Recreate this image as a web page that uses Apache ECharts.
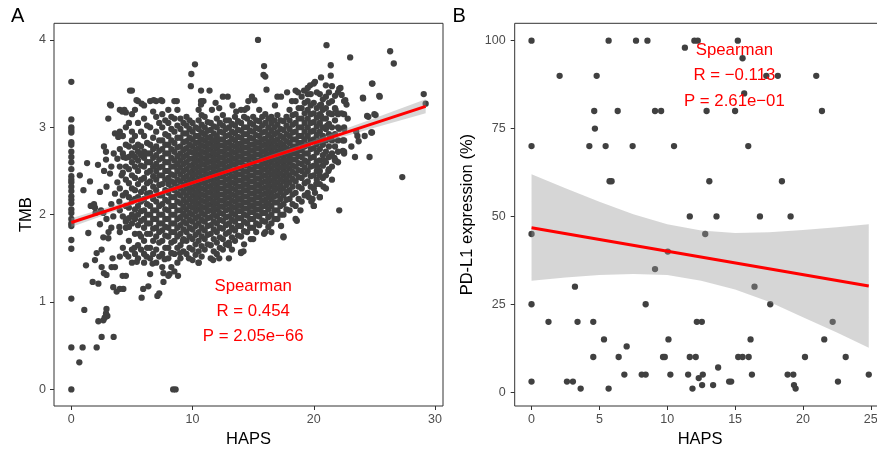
<!DOCTYPE html>
<html><head><meta charset="utf-8">
<script src="https://cdn.jsdelivr.net/npm/echarts@6/dist/echarts.min.js"></script>
<style>html,body{margin:0;padding:0;background:#fff}#c{width:877px;height:451px}</style>
</head><body><div id="c"></div>
<script>
// ---------- Panel A: TMB vs HAPS ----------
const tmbZeroHapsValues = [3.52,3.09,3.0,2.97,2.94,2.83,2.8,2.72,2.66,2.6,2.52,2.44,2.4,2.37,2.32,2.27,2.21,2.17,2.13,2.06,2.02,1.95,1.9,1.87,1.71,1.61,1.04,0.48,0];

const tmbStripHaps = [4.0,4.5,5.0,5.5,6.0,6.5,7.0,7.5,8.0,8.5,9.0,9.5,10.0,10.5,11.0,11.5,12.0,12.5,13.0,13.5,14.0,14.5,15.0,15.5,16.0,16.5,17.0,17.5,18.0,18.5,19.0,19.5,20.0,20.5,21.0,21.5,22.0,22.5];
const tmbStripValues = [
  [1.15,1.52,1.8,2.05,2.3,2.55,2.75,2.95,3.2],
  [1.3,1.55,1.85,1.92,2.1,2.25,2.4,2.55,2.65,2.8,3.0,3.17],
  [1.45,1.6,1.9,2.0,2.15,2.3,2.45,2.6,2.7,2.85,2.95,3.15,3.42],
  [1.5,1.65,1.88,2.0,2.1,2.2,2.35,2.5,2.62,2.72,2.8,3.05,3.3],
  [1.45,1.55,1.7,1.85,1.95,2.05,2.18,2.3,2.42,2.55,2.65,2.72,2.9,3.1,3.25],
  [1.5,1.62,1.78,1.9,2.0,2.1,2.25,2.38,2.5,2.6,2.7,2.8,3.0,3.3],
  [1.45,1.6,1.75,1.85,1.95,2.05,2.15,2.28,2.4,2.5,2.58,2.68,2.78,2.95,3.12,3.3],
  [1.4,1.55,1.7,1.82,1.9,2.0,2.12,2.22,2.35,2.45,2.55,2.65,2.75,2.85,3.0,3.15,3.3],
  [1.3,1.5,1.62,1.75,1.85,1.95,2.05,2.15,2.25,2.35,2.42,2.5,2.6,2.7,2.8,2.9,3.05,3.2],
  [1.35,1.55,1.7,1.8,1.9,2.0,2.1,2.2,2.28,2.36,2.45,2.55,2.62,2.72,2.82,2.95,3.1,3.3],
  [1.5,1.65,1.78,1.88,1.97,2.05,2.13,2.22,2.3,2.38,2.46,2.54,2.62,2.7,2.78,2.88,2.98,3.1],
  [1.55,1.7,1.8,1.9,1.98,2.06,2.14,2.22,2.3,2.37,2.44,2.52,2.6,2.68,2.76,2.84,2.93,3.02,3.12],
  [1.48,1.6,1.72,1.83,1.92,2.0,2.08,2.15,2.22,2.29,2.36,2.43,2.5,2.57,2.64,2.71,2.78,2.86,2.95,3.05],
  [1.45,1.58,1.7,1.8,1.9,1.98,2.06,2.13,2.2,2.27,2.34,2.41,2.48,2.55,2.62,2.69,2.76,2.83,2.9,2.98,3.08,3.2],
  [1.6,1.72,1.82,1.92,2.0,2.08,2.15,2.22,2.29,2.36,2.43,2.5,2.57,2.64,2.71,2.78,2.85,2.92,3.0,3.12],
  [1.5,1.65,1.78,1.88,1.97,2.05,2.12,2.19,2.26,2.33,2.4,2.47,2.54,2.61,2.68,2.75,2.82,2.89,2.97,3.05],
  [1.55,1.68,1.8,1.9,1.98,2.06,2.13,2.2,2.27,2.34,2.41,2.48,2.55,2.62,2.69,2.76,2.83,2.9,3.0,3.1],
  [1.6,1.72,1.84,1.93,2.01,2.09,2.16,2.23,2.3,2.37,2.44,2.51,2.58,2.65,2.72,2.79,2.86,2.94,3.02,3.14],
  [1.5,1.68,1.8,1.9,1.98,2.06,2.13,2.2,2.27,2.34,2.41,2.48,2.55,2.62,2.69,2.76,2.83,2.91,3.0,3.08],
  [1.7,1.82,1.92,2.0,2.08,2.15,2.22,2.29,2.36,2.43,2.5,2.57,2.64,2.71,2.78,2.85,2.93,3.02,3.12],
  [1.56,1.75,1.87,1.96,2.04,2.11,2.18,2.25,2.32,2.39,2.46,2.53,2.6,2.67,2.74,2.81,2.88,2.96,3.05,3.2],
  [1.8,1.9,1.99,2.07,2.14,2.21,2.28,2.35,2.42,2.49,2.56,2.63,2.7,2.77,2.84,2.92,3.0,3.1,3.22],
  [1.72,1.85,1.95,2.03,2.1,2.17,2.24,2.31,2.38,2.45,2.52,2.59,2.66,2.73,2.8,2.87,2.95,3.03,3.12],
  [1.88,1.98,2.06,2.13,2.2,2.27,2.34,2.41,2.48,2.55,2.62,2.69,2.76,2.83,2.9,2.98,3.07,3.2],
  [1.8,1.92,2.02,2.1,2.17,2.24,2.31,2.38,2.45,2.52,2.59,2.66,2.73,2.8,2.87,2.95,3.05,3.15],
  [1.9,2.0,2.1,2.18,2.25,2.32,2.39,2.46,2.53,2.6,2.67,2.74,2.81,2.88,2.96,3.05,3.12],
  [1.95,2.05,2.14,2.22,2.3,2.37,2.44,2.51,2.58,2.65,2.72,2.79,2.86,2.94,3.03,3.14],
  [1.75,2.0,2.12,2.22,2.3,2.38,2.45,2.52,2.59,2.66,2.73,2.8,2.88,2.97,3.07],
  [2.05,2.18,2.28,2.37,2.45,2.53,2.6,2.67,2.74,2.82,2.9,2.98,3.08,3.2],
  [1.95,2.1,2.25,2.38,2.47,2.55,2.63,2.7,2.78,2.86,2.95,3.05,3.15,3.3,3.42],
  [2.15,2.3,2.42,2.5,2.58,2.66,2.74,2.82,2.9,3.0,3.1,3.22,3.35],
  [2.25,2.38,2.5,2.6,2.7,2.8,2.9,3.0,3.1,3.2,3.3,3.45],
  [2.1,2.3,2.45,2.56,2.66,2.76,2.86,2.96,3.06,3.16,3.28,3.5],
  [2.2,2.35,2.5,2.62,2.75,2.85,2.95,3.05,3.15,3.25,3.38],
  [2.3,2.45,2.6,2.72,2.85,2.98,3.1,3.22,3.35,3.48],
  [2.4,2.55,2.7,2.85,3.0,3.15,3.3],
  [2.6,2.72,2.85,3.0,3.15,3.4],
  [2.7,2.85,3.0,3.15,3.3]
];

const tmbMidStripHaps = [4.25,4.75,5.25,5.75,6.25,6.75,7.25,7.75,8.25,8.75,9.25,9.75,10.25,10.75,11.25,11.75,12.25,12.75,13.25,13.75,14.25,14.75,15.25,15.75,16.25,16.75,17.25,17.75,18.25,18.75,19.25,19.75,20.25,20.75,21.25,21.75];
const tmbMidStripValues = [
  [1.62,1.98,2.22,2.48,2.7,2.9],
  [1.7,1.96,2.08,2.2,2.36,2.52,2.66,2.78,3.05],
  [1.55,1.78,1.95,2.06,2.18,2.28,2.42,2.55,2.66,2.77,2.9,3.2],
  [1.6,1.75,1.93,2.04,2.15,2.26,2.4,2.56,2.68,2.78,2.95],
  [1.62,1.78,1.9,2.0,2.12,2.24,2.36,2.48,2.6,2.7,2.82,3.02],
  [1.55,1.7,1.84,1.95,2.05,2.18,2.32,2.44,2.55,2.65,2.75,2.88,3.18],
  [1.52,1.68,1.8,1.9,2.0,2.1,2.22,2.34,2.45,2.54,2.63,2.73,2.85,3.05],
  [1.62,1.76,1.86,1.95,2.06,2.17,2.28,2.4,2.5,2.6,2.7,2.8,2.92,3.08],
  [1.4,1.56,1.68,1.8,1.9,2.0,2.1,2.2,2.3,2.38,2.46,2.55,2.65,2.75,2.85,2.98,3.12],
  [1.45,1.62,1.75,1.85,1.95,2.05,2.15,2.24,2.32,2.4,2.5,2.58,2.67,2.77,2.88,3.02,3.2],
  [1.58,1.72,1.83,1.92,2.01,2.09,2.17,2.26,2.34,2.42,2.5,2.58,2.66,2.74,2.83,2.93,3.05],
  [1.62,1.75,1.85,1.94,2.02,2.1,2.18,2.26,2.33,2.4,2.48,2.56,2.64,2.72,2.8,2.88,2.98,3.08],
  [1.54,1.66,1.77,1.87,1.96,2.04,2.11,2.18,2.25,2.32,2.39,2.46,2.53,2.6,2.67,2.74,2.82,2.9,3.0],
  [1.52,1.64,1.75,1.85,1.94,2.02,2.09,2.16,2.23,2.3,2.37,2.44,2.51,2.58,2.65,2.72,2.79,2.86,2.94,3.03,3.14],
  [1.66,1.77,1.87,1.96,2.04,2.11,2.18,2.25,2.32,2.39,2.46,2.53,2.6,2.67,2.74,2.81,2.88,2.96,3.06],
  [1.58,1.72,1.83,1.92,2.01,2.08,2.15,2.22,2.29,2.36,2.43,2.5,2.57,2.64,2.71,2.78,2.85,2.93,3.01],
  [1.62,1.74,1.85,1.94,2.02,2.09,2.16,2.23,2.3,2.37,2.44,2.51,2.58,2.65,2.72,2.79,2.86,2.95,3.05],
  [1.66,1.78,1.88,1.97,2.05,2.12,2.19,2.26,2.33,2.4,2.47,2.54,2.61,2.68,2.75,2.82,2.9,2.98,3.08],
  [1.6,1.74,1.85,1.94,2.02,2.09,2.16,2.23,2.3,2.37,2.44,2.51,2.58,2.65,2.72,2.79,2.87,2.95,3.04],
  [1.76,1.87,1.96,2.04,2.11,2.18,2.25,2.32,2.39,2.46,2.53,2.6,2.67,2.74,2.81,2.89,2.97,3.07],
  [1.66,1.81,1.92,2.0,2.07,2.14,2.21,2.28,2.35,2.42,2.49,2.56,2.63,2.7,2.77,2.84,2.92,3.0,3.12],
  [1.85,1.95,2.03,2.1,2.17,2.24,2.31,2.38,2.45,2.52,2.59,2.66,2.73,2.8,2.88,2.96,3.05],
  [1.8,1.9,1.99,2.06,2.13,2.2,2.27,2.34,2.41,2.48,2.55,2.62,2.69,2.76,2.83,2.91,2.99,3.08],
  [1.93,2.02,2.09,2.16,2.23,2.3,2.37,2.44,2.51,2.58,2.65,2.72,2.79,2.86,2.94,3.02,3.12],
  [1.86,1.97,2.06,2.13,2.2,2.27,2.34,2.41,2.48,2.55,2.62,2.69,2.76,2.83,2.91,3.0,3.1],
  [1.95,2.05,2.14,2.21,2.28,2.35,2.42,2.49,2.56,2.63,2.7,2.77,2.84,2.92,3.0,3.08],
  [2.0,2.1,2.18,2.26,2.33,2.4,2.47,2.54,2.61,2.68,2.75,2.82,2.9,2.98,3.08],
  [2.06,2.17,2.26,2.34,2.41,2.48,2.55,2.62,2.69,2.76,2.84,2.92,3.02,3.12],
  [2.12,2.23,2.32,2.41,2.49,2.56,2.63,2.7,2.78,2.86,2.94,3.03,3.14],
  [2.18,2.32,2.43,2.51,2.59,2.67,2.74,2.82,2.9,3.0,3.1,3.22],
  [2.22,2.36,2.46,2.54,2.62,2.7,2.78,2.86,2.95,3.05,3.16,3.28],
  [2.32,2.44,2.55,2.65,2.75,2.85,2.95,3.05,3.15,3.25,3.38],
  [2.4,2.5,2.61,2.71,2.81,2.91,3.01,3.11,3.22,3.4],
  [2.42,2.56,2.68,2.8,2.9,3.0,3.1,3.2,3.32],
  [2.52,2.66,2.78,2.92,3.04,3.16,3.28,3.4],
  [2.62,2.78,2.92,3.08,3.22,3.36]
];

const tmbScatteredPoints = [
  [1.07,0.91],[0.66,0.31],[0.93,0.48],[2.09,0.48],[2.5,0.6],[2.23,0.78],[2.86,0.87],[2.9,0.92],[2.97,0.84],[2.64,0.79],[2.75,0.82],[3.49,0.6],[8.4,0],[8.6,0],
  [1.76,1.23],[2.23,1.21],[1.21,1.42],[1.4,1.79],[2.09,1.56],[1.95,1.48],[2.5,1.6],[2.5,1.4],[2.9,1.31],[3.32,1.4],[3.6,1.4],[3.4,1.5],[3.46,1.17],[3.74,1.12],
  [4.29,1.15],[4.23,1.3],[2.69,1.33],[5.8,1.05],[6.35,1.18],[7.1,1.07],[7.25,1.1],[5.93,1.15],[7.6,1.33],[8.1,1.32],[8.8,1.3],[7.6,1.23],[4.7,1.52],[5.4,1.46],
  [6.2,1.52],[6.7,1.44],[7.7,1.49],[8.27,1.56],[8.96,1.56],[10.5,1.45],[11.7,1.48],[14.0,1.57],[14.2,1.58],[17.3,1.87],[17.5,1.74],[15.9,1.78],[18.6,1.93],
  [20.0,2.1],[22.1,2.05],[20.5,2.2],[19.9,2.18],
  [0.7,2.45],[1.0,2.28],[1.3,2.59],[1.54,2.38],[1.87,2.12],[1.95,2.08],[2.36,2.26],[2.2,2.57],[2.36,1.89],[2.64,2.02],[2.69,2.78],[2.86,2.72],[3.05,3.1],
  [3.19,3.26],[2.86,2.63],[3.19,2.47],[2.9,2.32],[3.46,1.98],[3.07,1.8],[2.64,1.74],[3.05,1.73],[3.3,1.85],[3.6,2.24],[3.8,2.37],[3.6,2.93],[3.87,2.89],
  [4.2,3.18],[4.37,3.2],[3.8,2.64],[3.96,2.15],[4.15,2.45],[4.29,2.66],[4.5,1.94],[4.75,1.86],[3.96,1.86],[2.45,2.05],[2.0,2.02],[1.6,2.1],[2.7,2.5],
  [3.3,2.55],[3.5,2.7],[3.3,2.12],[2.9,1.95],
  [15.4,4.0],[21.05,3.94],[23.0,3.8],[26.3,3.87],[26.6,3.73],[27.3,2.43],[29.07,3.38],[29.23,3.27],[24.84,3.5],[25.44,3.35],[24.07,3.33],[24.5,3.12],
  [25.1,3.14],[24.75,2.94],[24.6,2.66],[23.4,2.66],[23.1,2.78],[23.7,2.84],[22.5,2.72],[21.4,3.71],[21.4,3.59],[20.6,3.57],[20.1,3.52],[21.5,3.47],
  [22.1,3.44],[22.3,3.37],[10.2,3.72],[9.9,3.61],[9.86,3.47],[15.9,3.7],[15.85,3.6],[16.0,3.58],[16.1,3.43],[14.9,3.35],[15.1,3.31],[4.84,3.42],[5.38,3.31],
  [5.8,3.27],[6.8,3.31],[7.4,3.31],[8.7,3.3],[3.27,3.25],[10.7,3.42],[11.4,3.42],[10.7,3.3],[10.7,3.26],[12.5,3.35],[12.9,3.35],[11.6,3.2],[13.3,3.25],
  [14.3,3.2],[17.3,3.35],[17.8,3.4],[19.2,3.42],[19.7,3.48],[21.8,3.2],[22.8,3.1],[23.5,2.95],[24.2,2.9],[22.4,2.85],[21.8,2.62],[21.2,2.5],[20.8,2.32],
  [19.6,2.2],[18.9,2.05],[16.5,1.8],[14.8,1.72],[13.0,1.65],[12.2,1.5],[9.7,1.5],[9.2,1.7],[6.5,1.32],[5.2,1.62],[5.6,1.78],
  [22.4,2.73],[23.6,2.9],[24.8,2.94],[24.4,3.13],[25.0,3.15],[24.05,3.34],[25.4,3.36],[24.8,3.5],[22.2,3.45],[22.6,3.31],[22.7,3.26],[22.0,3.16],
  [22.3,3.16],[21.3,3.16],[21.1,3.02],[20.6,3.13],[20.6,3.26],[22.1,2.98],[22.5,2.98],[21.7,2.65],[20.9,2.62],[20.3,2.55],[20.5,2.45],[20.2,2.35],
  [20.1,2.25],[19.8,2.15],[10.9,3.3],[11.9,3.28],[13.6,3.18],[12.2,3.22],[14.6,3.3],[16.8,3.25],[17.0,3.35],[18.2,3.3],[18.7,3.4],[19.5,3.38]
];

const fitAHaps  = [0, 5, 10, 15, 20, 25, 29.23];
const fitAUpper = [1.96, 2.168, 2.386, 2.613, 2.851, 3.104, 3.32];
const fitALower = [1.86, 2.108, 2.346, 2.573, 2.791, 2.994, 3.16];
const fitALine  = [[0, 1.91], [29.23, 3.24]];

// ---------- Panel B: PD-L1 vs HAPS ----------
const pdl1Haps = [
  0,5.68,7.7,8.54,12.0,12.25,15.2, 11.3, 15.55, 2.07,4.8,17.3,18.15,20.98, 15.67,
  4.62,6.35,9.1,9.55,12.9,15.0,21.4, 4.67, 0,4.26,5.46,7.45,10.5,15.97, 5.75,5.9,13.1,18.45,
  11.66,13.63,16.83,19.09, 0,12.8, 10.04, 9.1, 3.2,16.43, 0,8.41,17.59,
  1.25,3.39,4.55,12.18,12.55,22.19, 5.34,10.09,16.14,21.57, 7.01,
  4.55,6.42,9.69,9.82,11.66,12.1,15.23,15.55,16.0,20.15,23.15, 13.75,
  6.84,8.12,8.41,10.23,11.54,12.62,16.24,18.87,19.29,24.85, 12.32,
  0,2.61,3.05,14.56,14.71,22.58, 12.57,13.38,19.34, 3.62,5.68,11.86,19.46
];
const pdl1Expr = [
  100,100,100,100,100,100,100, 98, 95, 90,90,90,90,90, 85,
  80,80,80,80,80,80,80, 75, 70,70,70,70,70,70, 60,60,60,60,
  50,50,50,50, 45,45, 40, 35, 30,30, 25,25,25,
  20,20,20,20,20,20, 15,15,15,15, 13,
  10,10,10,10,10,10,10,10,10,10,10, 7,
  5,5,5,5,5,5,5,5,5,5, 4,
  3,3,3,3,3,3, 2,2,2, 1,1,1,1
];

const fitBHaps  = [0, 2.5, 5, 7.5, 10, 12.5, 15, 17.5, 20, 22.5, 24.85];
const fitBUpper = [62.0, 58.0, 54.2, 50.6, 47.8, 46.0, 45.3, 45.5, 46.1, 46.9, 47.8];
const fitBLower = [31.7, 32.6, 33.3, 33.6, 33.3, 31.7, 29.2, 25.7, 21.3, 17.0, 12.6];
const fitBLine  = [[0, 46.8], [24.85, 30.2]];

// tick labels
const ticksAX = [0, 10, 20, 30];
const ticksAY = [0, 1, 2, 3, 4];
const ticksBX = [0, 5, 10, 15, 20, 25];
const ticksBY = [0, 25, 50, 75, 100];

// ---------- build ----------
const ptsA = [];
tmbZeroHapsValues.forEach(v => ptsA.push([0, v]));
tmbStripHaps.forEach((x, i) => tmbStripValues[i].forEach(v => ptsA.push([x, v])));
tmbMidStripHaps.forEach((x, i) => tmbMidStripValues[i].forEach(v => ptsA.push([x, v])));
tmbScatteredPoints.forEach(p => ptsA.push(p));
const ptsB = pdl1Haps.map((x, i) => [x, pdl1Expr[i]]);

const FONT = '"Liberation Sans", Arial, sans-serif';
const PT = '#404040';

function ribbon(xs, up, lo, idx) {
  return {
    type: 'custom', xAxisIndex: idx, yAxisIndex: idx, z: 3, silent: true, data: [0],
    renderItem: (params, api) => {
      const top = xs.map((x, i) => api.coord([x, up[i]]));
      const bot = xs.map((x, i) => api.coord([x, lo[i]])).reverse();
      return { type: 'polygon', shape: { points: top.concat(bot) }, style: { fill: 'rgba(153,153,153,0.4)' } };
    }
  };
}
function xAx(idx, min, max, ticks) {
  return {
    type: 'value', gridIndex: idx, min, max, name: 'HAPS', nameLocation: 'middle', nameGap: 23,
    nameTextStyle: { color: '#000', fontSize: 16.5, fontFamily: FONT },
    axisLine: { show: false, onZero: false }, splitLine: { show: false },
    axisTick: { show: true, inside: false, customValues: ticks, length: 4, lineStyle: { color: '#333', width: 1 } },
    axisLabel: { customValues: ticks, color: '#4D4D4D', fontSize: 12.5, fontFamily: FONT, margin: 7 }
  };
}
function yAx(idx, min, max, ticks, name, gap, lm) {
  return {
    type: 'value', gridIndex: idx, min, max, name, nameLocation: 'middle', nameGap: gap,
    nameTextStyle: { color: '#000', fontSize: 16.5, fontFamily: FONT },
    axisLine: { show: false, onZero: false }, splitLine: { show: false },
    axisTick: { show: true, inside: false, customValues: ticks, length: 4, lineStyle: { color: '#333', width: 1 } },
    axisLabel: { customValues: ticks, color: '#4D4D4D', fontSize: 12.5, fontFamily: FONT, margin: lm }
  };
}
function txt(s, x, y, size, color, align) {
  return { type: 'text', z: 100, style: { text: s, x, y, font: size + 'px ' + FONT, fill: color, textAlign: align || 'center', textVerticalAlign: 'middle' } };
}

const chart = echarts.init(document.getElementById('c'), null, { renderer: 'canvas' });
chart.setOption({
  animation: false,
  backgroundColor: '#fff',
  grid: [
    { left: 54, top: 23.3, width: 389, height: 382.7, show: true, borderColor: '#333', borderWidth: 1, backgroundColor: 'transparent', outerBoundsMode: 'none', containLabel: false },
    { left: 514.7, top: 23.3, width: 370.9, height: 382.7, show: true, borderColor: '#333', borderWidth: 1, backgroundColor: 'transparent', outerBoundsMode: 'none', containLabel: false }
  ],
  xAxis: [xAx(0, -1.43, 30.66, ticksAX), xAx(1, -1.24, 26.09, ticksBX)],
  yAxis: [yAx(0, -0.19, 4.19, ticksAY, 'TMB', 19, 8), yAx(1, -3.95, 104.95, ticksBY, 'PD-L1 expression (%)', 39, 9)],
  series: [
    { type: 'scatter', xAxisIndex: 0, yAxisIndex: 0, data: ptsA, symbolSize: 6.3, itemStyle: { color: PT, opacity: 1 }, z: 2, silent: true },
    ribbon(fitAHaps, fitAUpper, fitALower, 0),
    { type: 'line', xAxisIndex: 0, yAxisIndex: 0, data: fitALine, showSymbol: false, lineStyle: { color: '#FF0000', width: 3 }, z: 4, silent: true },
    { type: 'scatter', xAxisIndex: 1, yAxisIndex: 1, data: ptsB, symbolSize: 6.3, itemStyle: { color: PT, opacity: 1 }, z: 2, silent: true },
    ribbon(fitBHaps, fitBUpper, fitBLower, 1),
    { type: 'line', xAxisIndex: 1, yAxisIndex: 1, data: fitBLine, showSymbol: false, lineStyle: { color: '#FF0000', width: 3 }, z: 4, silent: true }
  ],
  graphic: [
    txt('A', 11, 16, 20, '#000', 'left'),
    txt('B', 452.5, 16, 20, '#000', 'left'),
    txt('Spearman', 253.2, 286.5, 16.8, '#FF0000'),
    txt('R = 0.454', 253.2, 311.2, 16.8, '#FF0000'),
    txt('P = 2.05e\u221266', 253.2, 336.2, 16.8, '#FF0000'),
    txt('Spearman', 734.4, 50, 16.8, '#FF0000'),
    txt('R = \u22120.113', 734.4, 75.3, 16.8, '#FF0000'),
    txt('P = 2.61e\u221201', 734.4, 101.3, 16.8, '#FF0000')
  ]
});
</script></body></html>
